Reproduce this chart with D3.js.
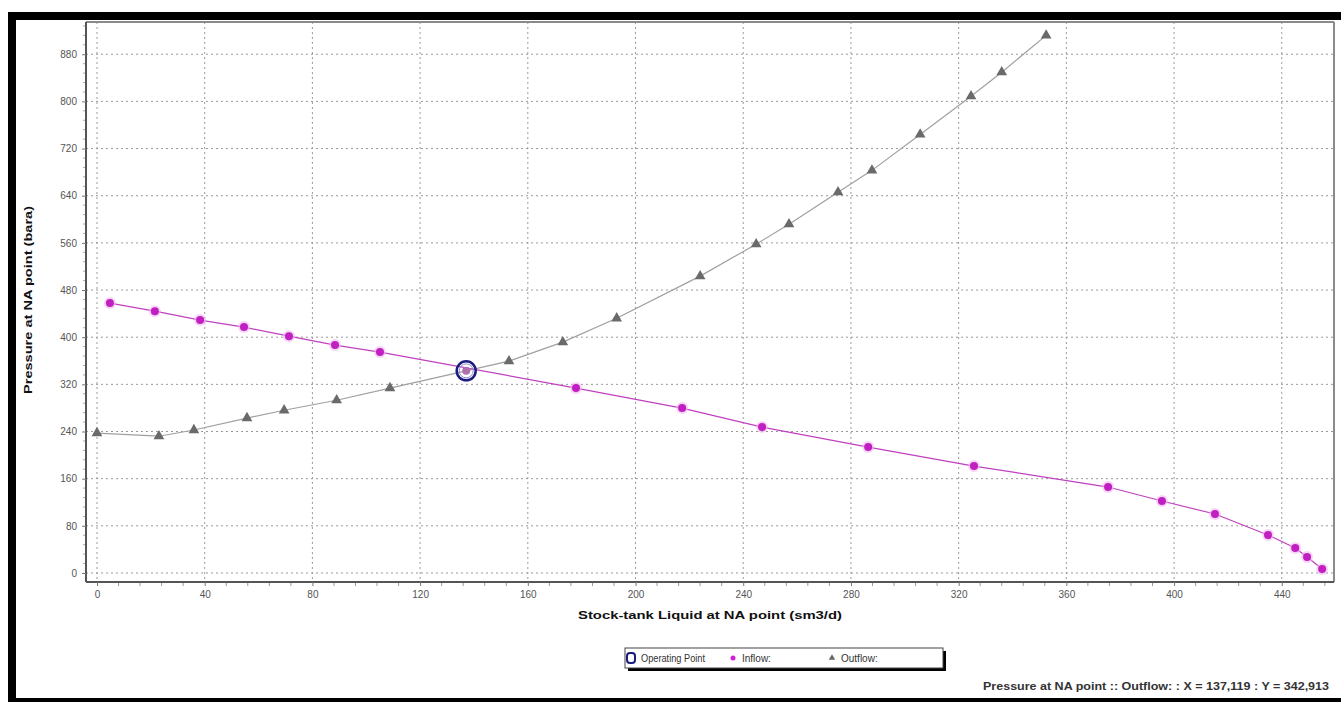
<!DOCTYPE html>
<html>
<head>
<meta charset="utf-8">
<script src="https://cdn.jsdelivr.net/npm/d3@7"></script>
<style>
  html, body { margin: 0; padding: 0; background: #fff; }
  svg { display: block; }
  text { font-family: "Liberation Sans", Arial, sans-serif; }
</style>
</head>
<body>
<svg id="chart" width="1341" height="702"></svg>
<script>
// ---- Data ----
const xTicks = [0, 40, 80, 120, 160, 200, 240, 280, 320, 360, 400, 440];
const yTicks = [0, 80, 160, 240, 320, 400, 480, 560, 640, 720, 800, 880];

const inflowX = [4.8, 21.5, 38.3, 54.6, 71.3, 88.4, 105.1, 177.9, 217.3, 247.0, 286.4, 325.7, 375.5, 395.5, 415.2, 434.9, 445.0, 449.4, 455.0];
const inflowY = [457.8, 444.2, 429.0, 417.1, 401.8, 386.6, 374.7, 313.7, 279.8, 247.5, 213.6, 181.4, 145.8, 122.1, 100.0, 64.4, 42.4, 27.1, 6.8];

const outflowX = [0, 23, 36, 55.7, 69.5, 89, 108.8, 153, 173, 193, 224, 244.8, 257, 275.2, 287.8, 305.7, 324.6, 336, 352.5];
const outflowY = [237.4, 232, 242.5, 262.8, 276, 293, 313.7, 359.4, 391.7, 432, 503.6, 557.8, 591.7, 646, 683, 744, 808.8, 849.5, 912];

const opPoint = { x: 137.119, y: 342.913 };

const xTitle = "Stock-tank Liquid at NA point (sm3/d)";
const yTitle = "Pressure at NA point (bara)";
const legendItems = ["Operating Point", "Inflow:", "Outflow:"];
const statusText = "Pressure at NA point :: Outflow: : X = 137,119 : Y = 342,913";

// ---- Layout ----
const svg = d3.select("#chart");
const L = 86, R = 1334, T = 22, B = 582;

const x = d3.scaleLinear().domain([-4.08, 459.4]).range([L, R]);
const y = d3.scaleLinear().domain([-15.3, 934.7]).range([B, T]);

// Frame (black)
svg.append("rect").attr("x", 8).attr("y", 12).attr("width", 1333).attr("height", 8).attr("fill", "#000");
svg.append("rect").attr("x", 8).attr("y", 12).attr("width", 8).attr("height", 690).attr("fill", "#000");
svg.append("rect").attr("x", 8).attr("y", 698).attr("width", 1333).attr("height", 4).attr("fill", "#000");

// Grid
const grid = svg.append("g");
grid.selectAll("line.gx").data(xTicks).join("line")
  .attr("x1", d => x(d)).attr("x2", d => x(d)).attr("y1", T).attr("y2", B)
  .attr("stroke", "#9a9a9a").attr("stroke-width", 1).attr("stroke-dasharray", "2,3");
grid.selectAll("line.gy").data(yTicks).join("line")
  .attr("x1", L).attr("x2", R).attr("y1", d => y(d)).attr("y2", d => y(d))
  .attr("stroke", "#9a9a9a").attr("stroke-width", 1).attr("stroke-dasharray", "2,3");

// Plot border
svg.append("line").attr("x1", L).attr("x2", R).attr("y1", T).attr("y2", T).attr("stroke", "#8a8a8a").attr("stroke-width", 2);
svg.append("line").attr("x1", R).attr("x2", R).attr("y1", T).attr("y2", B).attr("stroke", "#8a8a8a").attr("stroke-width", 2);

// Axes
const xAxis = d3.axisBottom(x).tickValues(xTicks).tickSize(4).tickSizeOuter(0).tickPadding(5);
const gx = svg.append("g").attr("transform", `translate(0,${B})`).call(xAxis);
const yAxis = d3.axisLeft(y).tickValues(yTicks).tickSize(4).tickSizeOuter(0).tickPadding(5);
const gy = svg.append("g").attr("transform", `translate(${L},0)`).call(yAxis);
[gx, gy].forEach(g => {
  g.select(".domain").attr("stroke", "#555").attr("stroke-width", 2);
  g.selectAll(".tick line").attr("stroke", "#777");
  g.selectAll(".tick text").attr("fill", "#555").attr("font-size", 10)
    .attr("font-family", "Liberation Sans, Arial, sans-serif");
});
gy.select(".domain").attr("d", `M0,${T}V${B}`);
gx.select(".domain").attr("d", `M${L},0H${R}`);

// Minor ticks
const minorX = d3.range(0, 460, 8).filter(v => xTicks.indexOf(v) < 0);
svg.append("g").selectAll("line").data(minorX).join("line")
  .attr("x1", d => x(d)).attr("x2", d => x(d)).attr("y1", B + 1).attr("y2", B + 4)
  .attr("stroke", "#999");
const minorY = d3.range(0, 930, 16).filter(v => yTicks.indexOf(v) < 0);
svg.append("g").selectAll("line").data(minorY).join("line")
  .attr("x1", L - 3).attr("x2", L - 1).attr("y1", d => y(d)).attr("y2", d => y(d))
  .attr("stroke", "#aaa");

// Titles
svg.append("text").attr("x", 710).attr("y", 619).attr("text-anchor", "middle")
  .attr("font-family", "DejaVu Sans, Verdana, sans-serif")
  .attr("font-weight", "bold").attr("font-size", 11.5).attr("fill", "#111")
  .attr("textLength", 264).attr("lengthAdjust", "spacingAndGlyphs").text(xTitle);
svg.append("text").attr("transform", "translate(32,300) rotate(-90)").attr("text-anchor", "middle")
  .attr("font-family", "DejaVu Sans, Verdana, sans-serif")
  .attr("font-weight", "bold").attr("font-size", 11.5).attr("fill", "#111")
  .attr("textLength", 188).attr("lengthAdjust", "spacingAndGlyphs").text(yTitle);

// Series
const inflow = inflowX.map((v, i) => [v, inflowY[i]]);
const outflow = outflowX.map((v, i) => [v, outflowY[i]]);
const line = d3.line().x(d => x(d[0])).y(d => y(d[1]));

svg.append("path").datum(outflow).attr("d", line).attr("fill", "none")
  .attr("stroke", "#a0a0a0").attr("stroke-width", 1.2);
svg.append("path").datum(inflow).attr("d", line).attr("fill", "none")
  .attr("stroke", "#c040c0").attr("stroke-width", 1.2);

const tri = d3.symbol().type(d3.symbolTriangle).size(50);
svg.append("g").selectAll("path").data(outflow).join("path")
  .attr("d", tri).attr("transform", d => `translate(${x(d[0])},${y(d[1])})`)
  .attr("fill", "#6a6a6a");

svg.append("g").selectAll("circle.glow").data(inflow).join("circle")
  .attr("cx", d => x(d[0])).attr("cy", d => y(d[1])).attr("r", 6)
  .attr("fill", "#f4b8f4").attr("opacity", 0.6);
svg.append("g").selectAll("circle.dot").data(inflow).join("circle")
  .attr("cx", d => x(d[0])).attr("cy", d => y(d[1])).attr("r", 4)
  .attr("fill", "#c020c0");

// Operating point
const ox = x(opPoint.x), oy = y(opPoint.y);
svg.append("circle").attr("cx", ox).attr("cy", oy).attr("r", 4).attr("fill", "#b070b0");
svg.append("circle").attr("cx", ox).attr("cy", oy).attr("r", 7).attr("fill", "none")
  .attr("stroke", "#8a8ad0").attr("stroke-width", 1);
svg.append("circle").attr("cx", ox).attr("cy", oy).attr("r", 9.5).attr("fill", "none")
  .attr("stroke", "#1c1c80").attr("stroke-width", 2.5);

// Legend
const lg = svg.append("g");
lg.append("rect").attr("x", 628).attr("y", 651).attr("width", 318).attr("height", 20).attr("fill", "#000");
lg.append("rect").attr("x", 625).attr("y", 648).attr("width", 318).attr("height", 20)
  .attr("fill", "#fff").attr("stroke", "#444").attr("stroke-width", 1);
lg.append("rect").attr("x", 627).attr("y", 653).attr("width", 8).attr("height", 10).attr("rx", 3)
  .attr("fill", "none").attr("stroke", "#1c1c80").attr("stroke-width", 2);
lg.append("text").attr("x", 641).attr("y", 662).attr("font-size", 10).attr("fill", "#333")
  .attr("textLength", 64).attr("lengthAdjust", "spacingAndGlyphs").text(legendItems[0]);
lg.append("circle").attr("cx", 733).attr("cy", 658).attr("r", 2.5).attr("fill", "#d020d0");
lg.append("text").attr("x", 742).attr("y", 662).attr("font-size", 10).attr("fill", "#333").text(legendItems[1]);
lg.append("path").attr("d", d3.symbol().type(d3.symbolTriangle).size(18))
  .attr("transform", "translate(832,658)").attr("fill", "#666");
lg.append("text").attr("x", 841).attr("y", 662).attr("font-size", 10).attr("fill", "#333").text(legendItems[2]);

// Status text
svg.append("text").attr("x", 1329).attr("y", 690).attr("text-anchor", "end")
  .attr("font-weight", "bold").attr("font-size", 11).attr("fill", "#333")
  .attr("textLength", 346).attr("lengthAdjust", "spacingAndGlyphs").text(statusText);
</script>
</body>
</html>
